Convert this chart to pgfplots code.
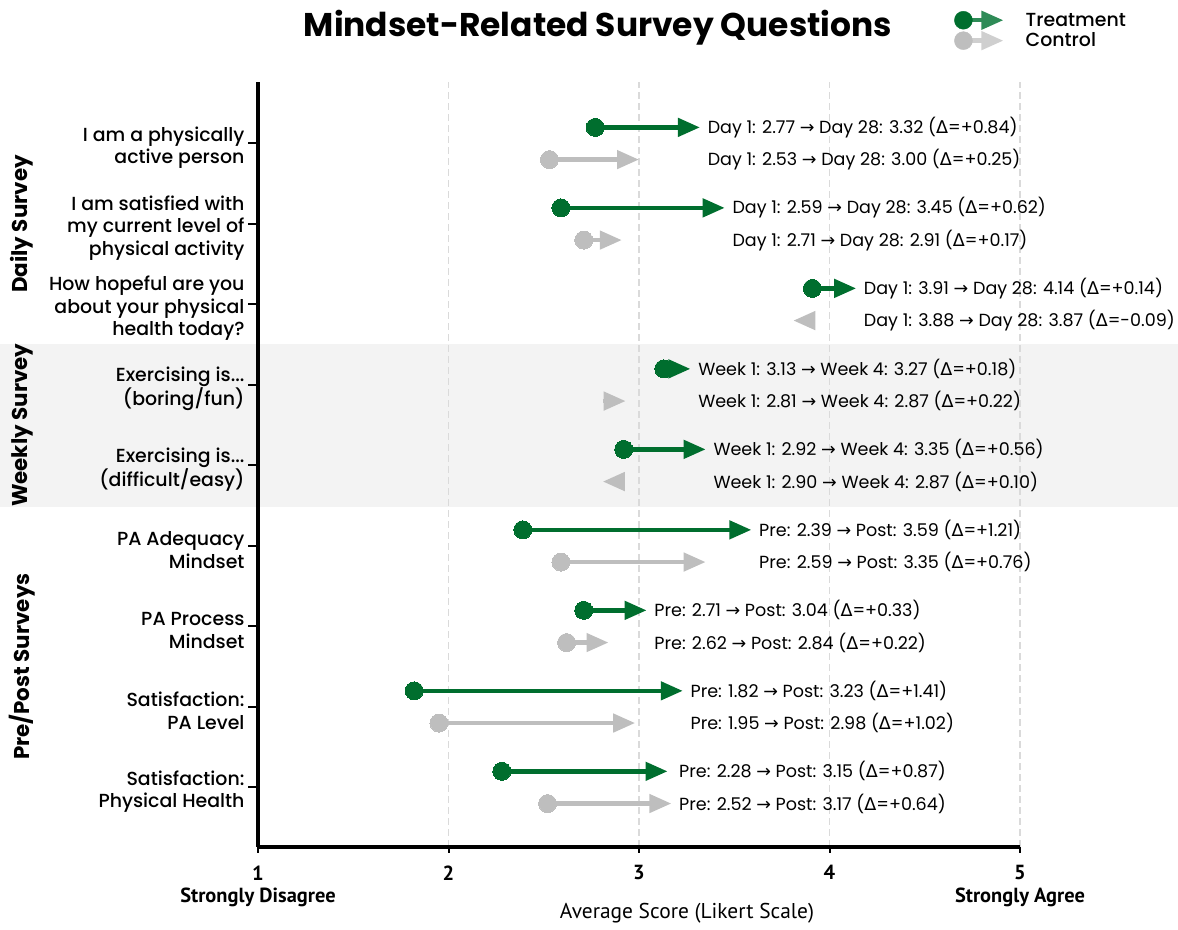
\documentclass[border=0pt]{standalone}
\usepackage{pgfplots}
\pgfplotsset{compat=1.18}
\usepackage{fontspec}
\setmainfont{Poppins}
\newfontfamily\pmed{Poppins Medium}
\newfontfamily\djv{DejaVu Sans}
\newfontfamily\pts{PT Sans}
\usetikzlibrary{arrows.meta}
\definecolor{tgreen}{RGB}{0,110,46}
\definecolor{tgreenL}{RGB}{46,139,87}
\definecolor{cgray}{RGB}{190,190,190}
\definecolor{cgrayL}{RGB}{207,207,207}
\definecolor{bandc}{RGB}{243,243,243}
\definecolor{gridc}{RGB}{218,218,218}
\newcommand\ra{{\djv →}}
\newcommand\D{{\djv Δ}}
\newcommand\dotsx{...}
\tikzset{
 tarr/.style={tgreen, line width=4.5bp, -{Triangle[length=22bp,width=18bp]}},
 carr/.style={cgray, line width=4.5bp, -{Triangle[length=22bp,width=18bp]}},
 ann/.style={anchor=west, inner sep=0pt, font=\fontsize{17.6}{20}\selectfont},
}
\begin{document}
\begin{tikzpicture}
\begin{axis}[
 set layers,
 at={(258bp,83bp)}, anchor=south west,
 scale only axis, width=762bp, height=765bp,
 xmin=1, xmax=5, ymin=-8.74, ymax=0.764,
 clip=false,
 axis x line*=bottom, axis y line*=left,
 axis line style={line width=4bp, black},
 xtick={1,2,3,4,5},
 xticklabels={{1\\Strongly Disagree},2,3,4,{5\\Strongly Agree}},
 xticklabel style={align=center, font=\pts\bfseries\fontsize{20.5}{23}\selectfont, yshift=-5bp},
 xtick style={/pgfplots/major tick length=6bp},
 ytick={0,-1,-2,-3,-4,-5,-6,-7,-8},
 yticklabels={
  {I am a physically\\active person},
  {I am satisfied with\\my current level of\\physical activity},
  {How hopeful are you\\about your physical\\health today?},
  {Exercising is\dotsx\\(boring/fun)},
  {Exercising is\dotsx\\(difficult/easy)},
  {PA Adequacy\\Mindset},
  {PA Process\\Mindset},
  {Satisfaction:\\PA Level},
  {Satisfaction:\\Physical Health}},
 yticklabel style={align=right, font=\pmed\fontsize{19}{22.5}\selectfont, yshift=-4bp},
 tick align=outside,
 major tick length=10bp,
 tick style={line width=2bp, black},
 xmajorgrids, grid style={dash pattern=on 7bp off 4bp, gridc, line width=1.5bp},
 legend style={at={(axis description cs:0.9134,1.093)}, anchor=north west,
   draw=none, fill=none, inner sep=0pt, font=\pmed\fontsize{19}{21}\selectfont,
   row sep=2bp, /tikz/every odd column/.append style={column sep=20bp},
   nodes={inner sep=0pt}},
 legend cell align=left,
]
\begin{pgfonlayer}{axis background}
\fill[bandc] (axis cs:-0.354,-2.49) rectangle (axis cs:5.83,-4.515);
\end{pgfonlayer}

\addlegendimage{legend image code/.code={
  \draw[tgreenL, line width=4.5bp, -{Triangle[length=22bp,width=18bp]}] (0bp,0bp) -- (40bp,0bp);
  \fill[tgreen] (0bp,0bp) circle (9bp);}}
\addlegendentry{Treatment}
\addlegendimage{legend image code/.code={
  \draw[cgrayL, line width=4.5bp, -{Triangle[length=22bp,width=18bp]}] (0bp,0bp) -- (40bp,0bp);
  \fill[cgray] (0bp,0bp) circle (9bp);}}
\addlegendentry{Control}

% Treatment arrows
\addplot[tarr] coordinates {(2.77,0.2) (3.32,0.2)};
\addplot[tarr] coordinates {(2.59,-0.8) (3.45,-0.8)};
\addplot[tarr] coordinates {(3.91,-1.8) (4.14,-1.8)};
\addplot[tarr] coordinates {(3.13,-2.8) (3.27,-2.8)};
\addplot[tarr] coordinates {(2.92,-3.8) (3.35,-3.8)};
\addplot[tarr] coordinates {(2.39,-4.8) (3.59,-4.8)};
\addplot[tarr] coordinates {(2.71,-5.8) (3.04,-5.8)};
\addplot[tarr] coordinates {(1.82,-6.8) (3.23,-6.8)};
\addplot[tarr] coordinates {(2.28,-7.8) (3.15,-7.8)};
% Control arrows
\addplot[carr] coordinates {(2.53,-0.2) (3.00,-0.2)};
\addplot[carr] coordinates {(2.71,-1.2) (2.91,-1.2)};
\addplot[carr] coordinates {(3.92,-2.2) (3.81,-2.2)};
\addplot[carr] coordinates {(2.81,-3.2) (2.93,-3.2)};
\addplot[carr] coordinates {(2.92,-4.2) (2.81,-4.2)};
\addplot[carr] coordinates {(2.59,-5.2) (3.35,-5.2)};
\addplot[carr] coordinates {(2.62,-6.2) (2.84,-6.2)};
\addplot[carr] coordinates {(1.95,-7.2) (2.98,-7.2)};
\addplot[carr] coordinates {(2.52,-8.2) (3.17,-8.2)};
% start markers
\addplot[tgreen, only marks, mark=*, mark size=9bp, mark options={fill=tgreen, draw=tgreen, line width=0pt}] coordinates {
 (2.77,0.2) (2.59,-0.8) (3.91,-1.8) (3.13,-2.8) (2.92,-3.8) (2.39,-4.8) (2.71,-5.8) (1.82,-6.8) (2.28,-7.8)};
\addplot[cgray, only marks, mark=*, mark size=9bp, mark options={fill=cgray, draw=cgray, line width=0pt}] coordinates {
 (2.53,-0.2) (2.71,-1.2) (2.59,-5.2) (2.62,-6.2) (1.95,-7.2) (2.52,-8.2)};

% annotations
\node[ann] at (axis cs:3.36,0.2) {Day 1: 2.77 \ra{} Day 28: 3.32 (\D=+0.84)};
\node[ann] at (axis cs:3.36,-0.2) {Day 1: 2.53 \ra{} Day 28: 3.00 (\D=+0.25)};
\node[ann] at (axis cs:3.49,-0.8) {Day 1: 2.59 \ra{} Day 28: 3.45 (\D=+0.62)};
\node[ann] at (axis cs:3.49,-1.2) {Day 1: 2.71 \ra{} Day 28: 2.91 (\D=+0.17)};
\node[ann] at (axis cs:4.18,-1.8) {Day 1: 3.91 \ra{} Day 28: 4.14 (\D=+0.14)};
\node[ann] at (axis cs:4.18,-2.2) {Day 1: 3.88 \ra{} Day 28: 3.87 (\D=-0.09)};
\node[ann] at (axis cs:3.31,-2.8) {Week 1: 3.13 \ra{} Week 4: 3.27 (\D=+0.18)};
\node[ann] at (axis cs:3.31,-3.2) {Week 1: 2.81 \ra{} Week 4: 2.87 (\D=+0.22)};
\node[ann] at (axis cs:3.39,-3.8) {Week 1: 2.92 \ra{} Week 4: 3.35 (\D=+0.56)};
\node[ann] at (axis cs:3.39,-4.2) {Week 1: 2.90 \ra{} Week 4: 2.87 (\D=+0.10)};
\node[ann] at (axis cs:3.63,-4.8) {Pre: 2.39 \ra{} Post: 3.59 (\D=+1.21)};
\node[ann] at (axis cs:3.63,-5.2) {Pre: 2.59 \ra{} Post: 3.35 (\D=+0.76)};
\node[ann] at (axis cs:3.08,-5.8) {Pre: 2.71 \ra{} Post: 3.04 (\D=+0.33)};
\node[ann] at (axis cs:3.08,-6.2) {Pre: 2.62 \ra{} Post: 2.84 (\D=+0.22)};
\node[ann] at (axis cs:3.27,-6.8) {Pre: 1.82 \ra{} Post: 3.23 (\D=+1.41)};
\node[ann] at (axis cs:3.27,-7.2) {Pre: 1.95 \ra{} Post: 2.98 (\D=+1.02)};
\node[ann] at (axis cs:3.21,-7.8) {Pre: 2.28 \ra{} Post: 3.15 (\D=+0.87)};
\node[ann] at (axis cs:3.21,-8.2) {Pre: 2.52 \ra{} Post: 3.17 (\D=+0.64)};

% group labels
\node[rotate=90, font=\bfseries\fontsize{21.5}{25}\selectfont] at (axis cs:-0.239,-1) {Daily Survey};
\node[rotate=90, font=\bfseries\fontsize{21.5}{25}\selectfont] at (axis cs:-0.239,-3.5) {Weekly Survey};
\node[rotate=90, font=\bfseries\fontsize{21.5}{25}\selectfont] at (axis cs:-0.239,-6.5) {Pre/Post Surveys};

\node[font=\pts\fontsize{21.5}{24}\selectfont] at (axis description cs:0.563,-0.0863) {Average Score (Likert Scale)};
\end{axis}
\node[anchor=base, font=\bfseries\fontsize{33}{38}\selectfont] at (598bp,893bp) {Mindset-Related Survey Questions};
\pgfresetboundingbox
\useasboundingbox (0,0) rectangle (1178bp,930bp);
\end{tikzpicture}
\end{document}
